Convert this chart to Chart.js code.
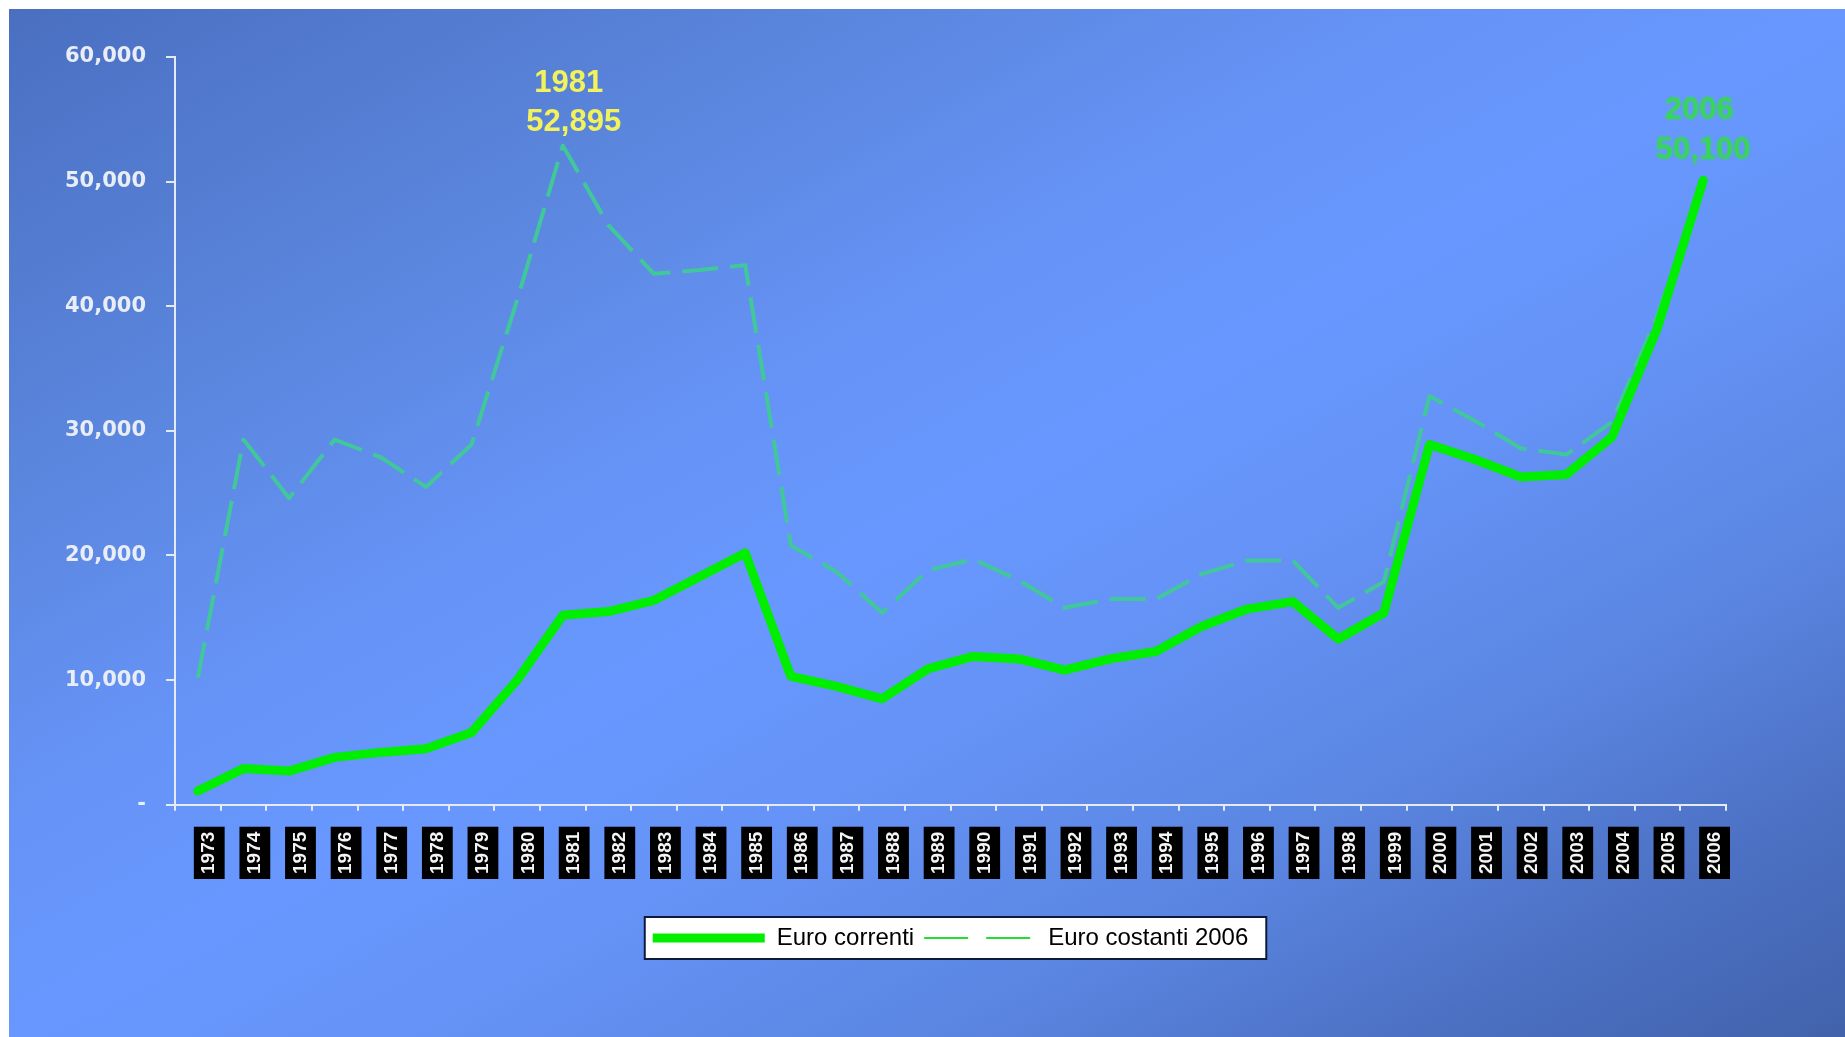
<!DOCTYPE html>
<html>
<head>
<meta charset="utf-8">
<script src="https://cdn.jsdelivr.net/npm/chart.js@4.4.1/dist/chart.umd.min.js"></script>
<style>
  html, body { margin: 0; padding: 0; background: #fff; }
  #frame {
    position: absolute;
    left: 9px; top: 9px;
    width: 1836px; height: 1028px;
    background: linear-gradient(to bottom right,
      #4a6fc1 0%, #5a85dc 22%, #6592f5 38%, #6898ff 50%,
      #6593f7 60%, #5b86e2 75%, #4c71c4 88%, #4262ab 100%);
  }
  canvas { display: block; }
</style>
</head>
<body>
<div id="frame"><canvas id="chart"></canvas></div>
<script>
// ---------- data ----------

const years = [
  "1973","1974","1975","1976","1977","1978","1979","1980","1981","1982",
  "1983","1984","1985","1986","1987","1988","1989","1990","1991","1992",
  "1993","1994","1995","1996","1997","1998","1999","2000","2001","2002",
  "2003","2004","2005","2006"
];

const euroCorrenti = [
  1100, 2900, 2700, 3800, 4200, 4500, 5800, 10000, 15200, 15500,
  16400, 18300, 20200, 10300, 9500, 8500, 10900, 11900, 11700, 10800,
  11700, 12300, 14300, 15700, 16300, 13300, 15400, 28900, 27700, 26300,
  26500, 29500, 38300, 50100
];

const euroCostanti2006 = [
  10200, 29300, 24600, 29300, 27900, 25500, 28900, 40500, 52895, 46500,
  42600, 42900, 43300, 20800, 18700, 15400, 18800, 19700, 18000, 15800,
  16500, 16500, 18500, 19600, 19600, 15800, 17900, 32800, 30800, 28600,
  28100, 30700, 39300, 50100
];

const seriesNames = ["Euro correnti", "Euro costanti 2006"];

// points that get a "year / value" caption above them
const calloutSeries = [1, 0];
const calloutYears = ["1981", "2006"];

// caption look: colour, lift of the two lines above the point, x nudge
const calloutStyle = [
  { color: "#f2f25c", lift: [62, 23], nudge: [6, 11], soft: false },
  { color: "#2fe03e", lift: [70, 30], nudge: [-4, 0], soft: true }
];

// ---------- plugins ----------

const fmt = v => v.toLocaleString("en-US");

// white box with dark border behind the legend entries
const legendFrame = {
  id: "legendFrame",
  beforeDraw(chart){
    const boxes = chart.legend && chart.legend.legendHitBoxes;
    if(!boxes || !boxes.length) return;
    const first = boxes[0];
    const last = boxes[boxes.length - 1];
    const cy = first.top + first.height / 2;
    const x0 = first.left - 8;
    const x1 = last.left + last.width + 18;
    const ctx = chart.ctx;
    ctx.save();
    ctx.fillStyle = "#ffffff";
    ctx.fillRect(x0, cy - 21, x1 - x0, 42);
    ctx.strokeStyle = "#0c1a3c";
    ctx.lineWidth = 2;
    ctx.strokeRect(x0, cy - 21, x1 - x0, 42);
    ctx.restore();
  }
};

// two-line captions (year + value) over selected points
const captions = {
  id: "captions",
  afterDatasetsDraw(chart){
    const ctx = chart.ctx;
    calloutYears.forEach((year, k) => {
      const s = calloutSeries[k];
      const st = calloutStyle[k];
      const idx = years.indexOf(year);
      const pt = chart.getDatasetMeta(s).data[idx];
      const value = chart.data.datasets[s].data[idx];
      ctx.save();
      ctx.font = "bold 31px 'Liberation Sans', Arial, sans-serif";
      ctx.textAlign = "center";
      ctx.textBaseline = "middle";
      ctx.fillStyle = st.color;
      if(st.soft) ctx.filter = "blur(0.8px)";
      ctx.fillText(year, pt.x + st.nudge[0], pt.y - st.lift[0]);
      ctx.fillText(fmt(value), pt.x + st.nudge[1], pt.y - st.lift[1]);
      ctx.restore();
    });
  }
};

// ---------- chart ----------

const axisColor = "#e4ebf6";

new Chart(document.getElementById("chart"), {
  type: "line",
  data: {
    labels: years,
    datasets: [
      {
        label: seriesNames[0],
        data: euroCorrenti,
        borderColor: "#00ee00",
        borderWidth: 9,
        borderCapStyle: "round",
        borderJoinStyle: "round",
        pointRadius: 0,
        tension: 0
      },
      {
        label: seriesNames[1],
        data: euroCostanti2006,
        borderColor: "#40c89a",
        borderWidth: 4,
        borderDash: [36, 12],
        borderJoinStyle: "round",
        pointRadius: 0,
        tension: 0
      }
    ]
  },
  options: {
    responsive: true,
    maintainAspectRatio: false,
    animation: false,
    events: [],
    layout: { padding: { left: 36, right: 119, top: 48, bottom: 77 } },
    plugins: {
      tooltip: { enabled: false },
      legend: {
        position: "bottom",
        fullSize: false,
        labels: {
          color: "#000",
          font: { family: "'Liberation Sans', Arial, sans-serif", size: 24 },
          usePointStyle: true,
          pointStyle: "line",
          pointStyleWidth: 112,
          padding: 10,
          generateLabels(chart){
            const items = Chart.defaults.plugins.legend.labels.generateLabels(chart);
            // the legend key for the constant-euro series is a thin bright dash pair
            items[1].lineDash = [44, 18];
            items[1].lineWidth = 2;
            items[1].strokeStyle = "#22dd33";
            return items;
          }
        }
      }
    },
    scales: {
      x: {
        offset: true,
        border: { color: axisColor, width: 2 },
        grid: {
          offset: true,
          drawOnChartArea: false,
          color: axisColor,
          lineWidth: 2,
          tickLength: 6
        },
        ticks: {
          autoSkip: false,
          minRotation: 90,
          maxRotation: 90,
          padding: 21,
          color: "#f4f4f4",
          font: { family: "'Liberation Sans', Arial, sans-serif", size: 19, weight: "bold" },
          showLabelBackdrop: true,
          backdropColor: "#000000",
          backdropPadding: { top: 4, bottom: 4, left: 5, right: 5 }
        },
        afterFit(scale){
          // extra room between the year tags and the legend
          scale.height += 21;
        }
      },
      y: {
        min: 0,
        max: 60000,
        border: { color: axisColor, width: 2 },
        grid: {
          drawOnChartArea: false,
          color: axisColor,
          lineWidth: 2,
          tickLength: 9
        },
        ticks: {
          stepSize: 10000,
          padding: 20,
          color: "#e8edf6",
          font: { family: "'DejaVu Sans', sans-serif", size: 21, weight: "bold" },
          callback: v => v === 0 ? "-" : fmt(v)
        }
      }
    }
  },
  plugins: [legendFrame, captions]
});
</script>
</body>
</html>
